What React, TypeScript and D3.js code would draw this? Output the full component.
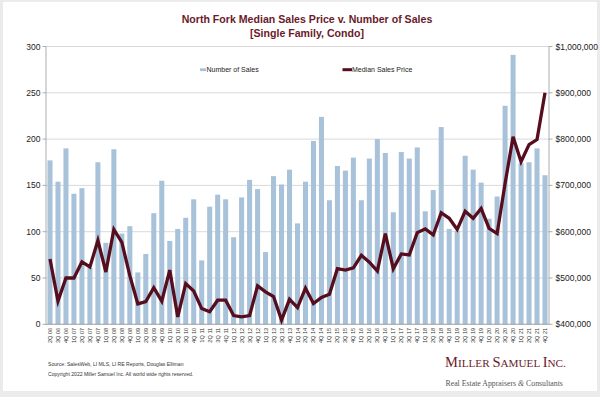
import React from "react";
import * as d3 from "d3";

const quarters = [
  "2Q 06","3Q 06","4Q 06",
  "1Q 07","2Q 07","3Q 07","4Q 07",
  "1Q 08","2Q 08","3Q 08","4Q 08",
  "1Q 09","2Q 09","3Q 09","4Q 09",
  "1Q 10","2Q 10","3Q 10","4Q 10",
  "1Q 11","2Q 11","3Q 11","4Q 11",
  "1Q 12","2Q 12","3Q 12","4Q 12",
  "1Q 13","2Q 13","3Q 13","4Q 13",
  "1Q 14","2Q 14","3Q 14","4Q 14",
  "1Q 15","2Q 15","3Q 15","4Q 15",
  "1Q 16","2Q 16","3Q 16","4Q 16",
  "1Q 17","2Q 17","3Q 17","4Q 17",
  "1Q 18","2Q 18","3Q 18","4Q 18",
  "1Q 19","2Q 19","3Q 19","4Q 19",
  "1Q 20","2Q 20","3Q 20","4Q 20",
  "1Q 21","2Q 21","3Q 21","4Q 21",
];

const numberOfSales = [
  177,154,190,141,147,61,175,88,189,98,106,56,76,120,155,90,103,115,135,69,
  127,140,135,94,137,156,146,78,160,151,167,109,154,198,224,134,171,166,180,134,
  179,200,185,121,186,179,191,122,145,213,103,101,182,167,153,114,138,236,291,174,
  175,190,161,
];

const medianSalesPrice = [
  541000,450000,500000,500000,535000,524000,581000,513000,605000,577000,
  505000,444000,449000,479000,450000,517000,416000,488000,472000,434000,
  427000,452000,452000,419000,416000,419000,483000,470000,460000,409000,
  454000,436000,478000,445000,458000,465000,520000,517000,522000,549000,
  534000,515000,596000,520000,552000,550000,598000,606000,593000,641000,
  629000,605000,644000,629000,650000,607000,596000,704000,805000,751000,
  788000,799000,900000,
];

const leftTicks = [0, 50, 100, 150, 200, 250, 300];
const rightTicks = [400000, 500000, 600000, 700000, 800000, 900000, 1000000];

const titleLines = ["North Fork Median Sales Price v. Number of Sales", "[Single Family, Condo]"];
const legendLabels = ["Number of Sales", "Median Sales Price"];
const sourceLines = [
  "Source: SalesWeb, LI MLS, LI RE Reports, Douglas Elliman",
  "Copyright 2022 Miller Samuel Inc.  All world wide rights reserved.",
];

const W = 600, H = 397;
const L = 46, R = 549, T = 46.5, B = 324.3;
const BAR = "#a8c2da";
const LINE = "#560d1d";
const TITLE = "#6a1a2a";
const SANS = "'Liberation Sans', Arial, Helvetica, sans-serif";
const SERIF = "'Liberation Serif', 'Times New Roman', serif";

export default function App() {
  const x = d3.scaleBand<string>().domain(quarters).range([L, R]).paddingInner(0.37).paddingOuter(0.185);
  const yL = d3.scaleLinear().domain([0, 300]).range([B, T]);
  const yR = d3.scaleLinear().domain([400000, 1000000]).range([B, T]);
  const cx = (q: string) => (x(q) as number) + x.bandwidth() / 2;
  const line = d3.line<number>()
    .x((_, i) => cx(quarters[i]))
    .y((d) => yR(d));
  const fmt = d3.format("$,.0f");

  return (
    <svg width={W} height={H} style={{ position: "absolute", left: 0, top: 0, display: "block" }}>
      <rect x={0} y={0} width={W} height={H} fill="#ebebeb" />
      <rect x={3} y={2} width={594} height={389} fill="#ffffff" />

      {titleLines.map((t, i) => (
        <text key={t} x={307} y={22.5 + i * 14} textAnchor="middle" fontFamily={SANS} fontWeight="bold" fontSize={10.6} fill={TITLE}>
          {t}
        </text>
      ))}

      {leftTicks.map((t) => (
        <g key={t}>
          <line x1={L} x2={R} y1={yL(t)} y2={yL(t)} stroke="#cfcfcf" strokeWidth={0.8} />
          <line x1={L - 3.5} x2={L} y1={yL(t)} y2={yL(t)} stroke="#9a9a9a" strokeWidth={0.8} />
          <text x={40.5} y={yL(t) + 3} textAnchor="end" fontFamily={SANS} fontSize={8.5} fill="#222">{t}</text>
        </g>
      ))}
      {rightTicks.map((t) => (
        <g key={t}>
          <line x1={R} x2={R + 3.5} y1={yR(t)} y2={yR(t)} stroke="#9a9a9a" strokeWidth={0.8} />
          <text x={555.5} y={yR(t) + 3} textAnchor="start" fontFamily={SANS} fontSize={8.5} fill="#222">{fmt(t)}</text>
        </g>
      ))}

      {numberOfSales.map((v, i) => (
        <rect key={quarters[i]} x={x(quarters[i])} y={yL(v)} width={x.bandwidth()} height={B - yL(v)} fill={BAR} />
      ))}

      <line x1={L} x2={L} y1={T} y2={B} stroke="#9a9a9a" strokeWidth={0.8} />
      <line x1={R} x2={R} y1={T} y2={B} stroke="#9a9a9a" strokeWidth={0.8} />
      <line x1={L} x2={R} y1={B} y2={B} stroke="#9a9a9a" strokeWidth={0.8} />

      <path d={line(medianSalesPrice) || ""} fill="none" stroke={LINE} strokeWidth={3.3} strokeLinejoin="miter" />

      {quarters.map((q) => (
        <text key={q} transform={`translate(${cx(q) + 2},${B + 3.5}) rotate(-90)`} textAnchor="end" fontFamily={SANS} fontSize={5.6} fill="#333">
          {q}
        </text>
      ))}

      <rect x={200} y={68.3} width={6} height={2.8} fill={BAR} />
      <text x={206.5} y={72.3} fontFamily={SANS} fontSize={7} fill="#222">{legendLabels[0]}</text>
      <rect x={342.5} y={68.2} width={9.5} height={3} fill={LINE} />
      <text x={352} y={72.3} fontFamily={SANS} fontSize={7} fill="#222">{legendLabels[1]}</text>

      {sourceLines.map((s, i) => (
        <text key={s} x={48} y={366 + i * 9.5} fontFamily={SANS} fontSize={5.1} fill="#333">{s}</text>
      ))}

      <text x={445} y={367} fontFamily={SERIF} fill={TITLE}>
        <tspan fontSize={14.5}>M</tspan>
        <tspan fontSize={11.2}>ILLER </tspan>
        <tspan fontSize={14.5}>S</tspan>
        <tspan fontSize={11.2}>AMUEL </tspan>
        <tspan fontSize={14.5}>I</tspan>
        <tspan fontSize={11.2}>NC.</tspan>
      </text>
      <text x={445.5} y={385.5} fontFamily={SERIF} fontSize={7.8} fill="#555">
        Real Estate Appraisers <tspan fontStyle="italic">&amp;</tspan> Consultants
      </text>
    </svg>
  );
}
